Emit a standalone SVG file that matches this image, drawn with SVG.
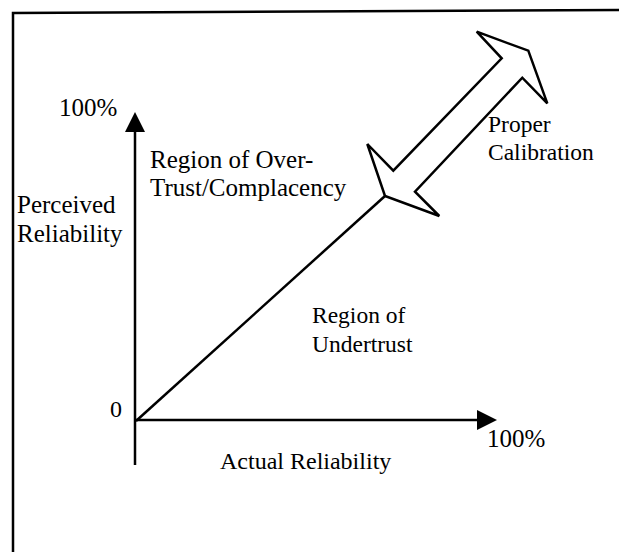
<svg xmlns="http://www.w3.org/2000/svg" width="619" height="552" viewBox="0 0 619 552">
<style>
text{font-family:"Liberation Serif","Times New Roman",serif;font-size:24px;fill:#000}
.big{font-size:25px}
.sm{font-size:23.5px}
.ln{stroke:#000;stroke-width:2.5;fill:none}
.ah{fill:#000;stroke:none}
</style>
<rect width="619" height="552" fill="#fff"/>
<g id="frame">
<path class="ln" d="M13,552 L13,13 L619,10"/>
</g>
<g id="connectors">
<line class="ln" x1="135" y1="465" x2="135" y2="130"/>
<polygon class="ah" points="135,112 125,132 145,132"/>
<line class="ln" x1="135" y1="420" x2="478" y2="420"/>
<polygon class="ah" points="497,420 477,410 477,430"/>
<line class="ln" x1="136" y1="421" x2="385" y2="196"/>
</g>
<g id="calibration-arrow">
<polygon points="476.7,31.7 528.3,50.7 547.3,103.3 522.3,77.7 415,191.7 439.3,216 385,196 367.3,144 393.3,170.7 501.7,58.3" fill="#fff" stroke="#000" stroke-width="2.5" stroke-linejoin="miter"/>
</g>
<g id="labels">
<text class="big" x="59" y="116">100%</text>
<text class="big" x="150" y="168">Region of Over-</text>
<text class="big" x="150" y="196">Trust/Complacency</text>
<text class="big" x="17" y="213">Perceived</text>
<text class="big" x="17" y="242">Reliability</text>
<text class="sm" x="488" y="132">Proper</text>
<text class="sm" x="488" y="160">Calibration</text>
<text class="sm" x="312" y="323">Region of</text>
<text class="sm" x="312" y="352">Undertrust</text>
<text x="110" y="417">0</text>
<text class="big" x="487" y="447">100%</text>
<text x="220" y="469">Actual Reliability</text>
</g>
</svg>
